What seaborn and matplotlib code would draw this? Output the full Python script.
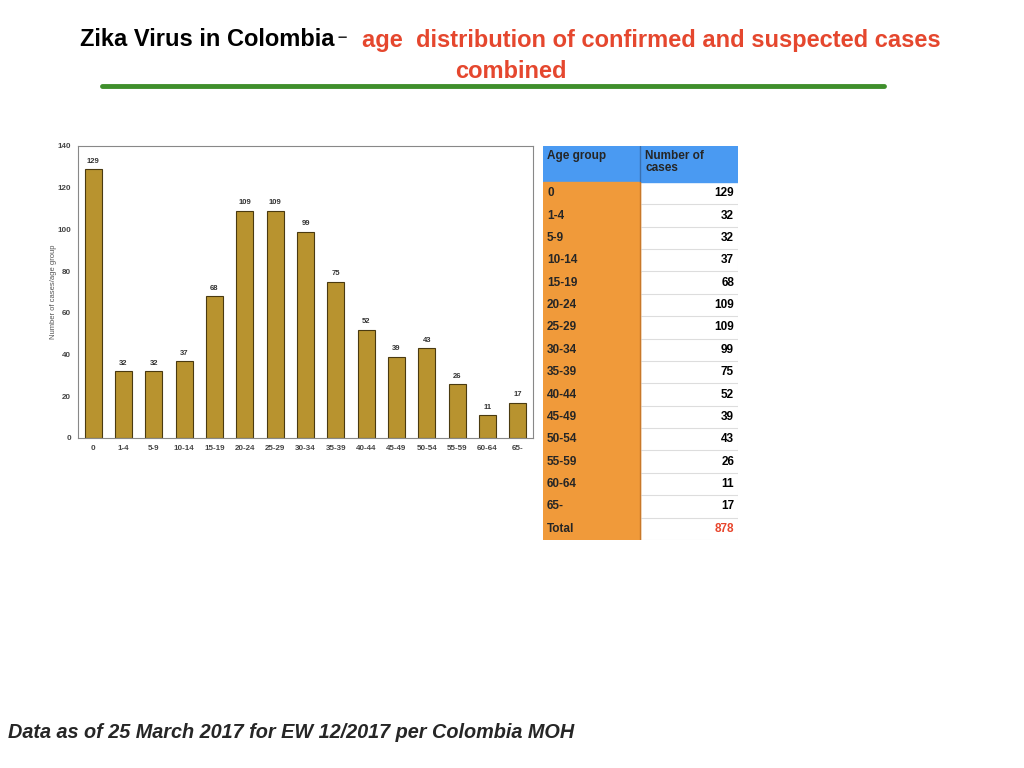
import matplotlib.pyplot as plt
import matplotlib.patches as mpatches
import seaborn as sns

age_groups = ["0", "1-4", "5-9", "10-14", "15-19", "20-24", "25-29", "30-34",
              "35-39", "40-44", "45-49", "50-54", "55-59", "60-64", "65-"]
cases = [129, 32, 32, 37, 68, 109, 109, 99, 75, 52, 39, 43, 26, 11, 17]
total_label = "Total"
total_cases = 878
y_ticks = [0, 20, 40, 60, 80, 100, 120, 140]

sns.set_style("white")
plt.rcParams['font.family'] = ['Liberation Sans', 'DejaVu Sans']

fig = plt.figure(figsize=(10.24, 7.68), dpi=100)

# bar chart
ax = fig.add_axes([78/1024, 1-438/768, (533-78)/1024, (438-146)/768])
sns.barplot(x=age_groups, y=cases, color="#B8932F", edgecolor="#4a3a10",
            linewidth=0.8, width=0.55, saturation=1, ax=ax)
ax.bar_label(ax.containers[0], fontsize=5.5, fontweight="bold", color="#333333", padding=3)
ax.set_ylim(0, 140)
ax.set_yticks(y_ticks)
ax.set_xlim(-0.5, len(age_groups) - 0.5)
ax.tick_params(axis="both", length=0, labelsize=5.8, labelcolor="#444444", pad=5)
for lbl in ax.get_xticklabels() + ax.get_yticklabels():
    lbl.set_fontweight("bold")
ax.set_ylabel("Number of cases/age group", fontsize=5.5, color="#555555", labelpad=0)
for s in ax.spines.values():
    s.set_color("#888888")
    s.set_linewidth(0.8)

# table
tx0, tx1, tx2 = 543, 640, 738
ty_top, ty_head, ty_bot = 146, 182, 540
tab = fig.add_axes([tx0/1024, 1-ty_bot/768, (tx2-tx0)/1024, (ty_bot-ty_top)/768])
tab.set_xlim(tx0, tx2)
tab.set_ylim(ty_bot, ty_top)
tab.axis("off")
rows = list(zip(age_groups, cases)) + [(total_label, total_cases)]
rh = (ty_bot - ty_head) / len(rows)
tab.add_patch(mpatches.Rectangle((tx0, ty_top), tx2-tx0, ty_head-ty_top, color="#4A9AF2"))
tab.plot([tx1, tx1], [ty_top, ty_head], color="#3a70b0", lw=1)
tab.text(tx0+4, ty_top+4, "Age group", fontsize=8.5, fontweight="bold", va="top", ha="left")
tab.text(tx1+5, ty_top+4, "Number of\ncases", fontsize=8.5, fontweight="bold", va="top",
         ha="left", linespacing=1.0)
for i, (lab, val) in enumerate(rows):
    y = ty_head + i*rh
    tab.add_patch(mpatches.Rectangle((tx0, y), tx1-tx0, rh, color="#F09A3A"))
    tab.plot([tx1, tx2], [y+rh, y+rh], color="#dddddd", lw=0.8)
    tab.plot([tx2, tx2], [y, y+rh], color="#eeeeee", lw=0.8)
    tab.text(tx0+4, y+rh/2, lab, fontsize=8.5, fontweight="bold", va="center", ha="left")
    tab.text(tx2-4, y+rh/2, str(val), fontsize=8.5, fontweight="bold", va="center", ha="right",
             color="#E8452C" if lab == total_label else "black")
tab.plot([tx1, tx1], [ty_head, ty_bot], color="#c8782a", lw=1)

# title
fig.text(80/1024, 1-40/768, "Zika Virus in Colombia", fontsize=17, fontweight="bold",
         va="center", ha="left", color="black")
fig.text(337/1024, 1-37/768, "\u2013", fontsize=12, fontweight="bold", va="center", ha="left")
fig.text(362/1024, 1-40/768, "age  distribution of confirmed and suspected cases", fontsize=17,
         fontweight="bold", va="center", ha="left", color="#E5472E")
fig.text(511/1024, 1-71/768, "combined", fontsize=17, fontweight="bold", va="center",
         ha="center", color="#E5472E")
fig.add_artist(plt.Line2D([102/1024, 884/1024], [1-86/768, 1-86/768], color="#3F8F2C", lw=3.5))

# footer
fig.text(8/1024, 1-733/768, "Data as of 25 March 2017 for EW 12/2017 per Colombia MOH",
         fontsize=14.3, fontweight="bold", style="italic", va="center", ha="left")

fig.savefig("out.png", dpi=100)
